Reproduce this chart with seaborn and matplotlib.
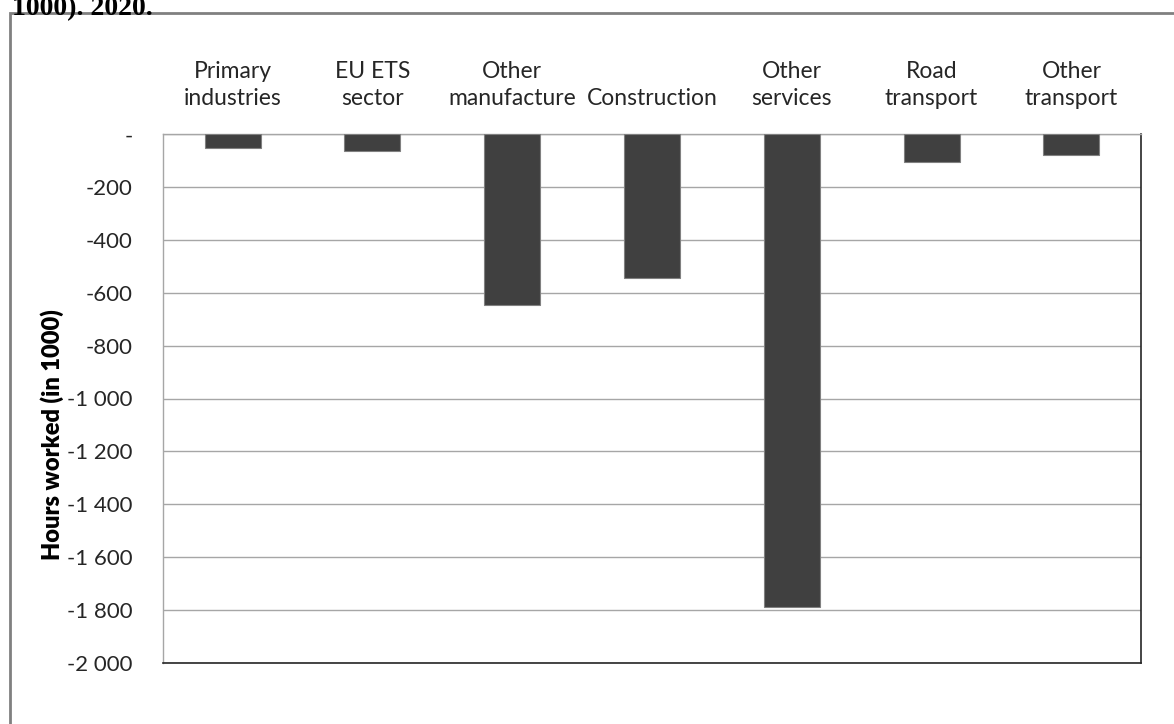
import matplotlib
matplotlib.use("Agg")
import matplotlib.pyplot as plt
from matplotlib.patches import Rectangle
from matplotlib.ticker import FuncFormatter, MultipleLocator
import seaborn as sns
import pandas as pd

# Change in hours worked by sector (in 1000)
categories = ["Primary\nindustries", "EU ETS\nsector", "Other\nmanufacture", "Construction",
              "Other\nservices", "Road\ntransport", "Other\ntransport"]
hours = [-50, -65, -646, -545, -1790, -106, -78]
y_label = "Hours worked (in 1000)"
caption = "1000). 2020."

sns.set_theme(style="white")
plt.rcParams["font.family"] = ["Lato", "DejaVu Sans"]

df = pd.DataFrame({"sector": categories, "hours": hours})

W, H = 1174, 724
fig = plt.figure(figsize=(W / 100, H / 100), dpi=100)
ax = fig.add_axes([162.7 / W, 1 - 662.7 / H, (1141.3 - 162.7) / W, (662.7 - 134.3) / H])

sns.barplot(data=df, x="sector", y="hours", color="#404040", width=0.4,
            edgecolor="#808080", linewidth=0.8, saturation=1, ax=ax, zorder=3)

ax.set_ylim(-2000, 0)
ax.yaxis.set_major_locator(MultipleLocator(200))
ax.yaxis.set_major_formatter(FuncFormatter(
    lambda v, p: "-" if abs(v) < 1e-9 else f"{int(round(v)):,}".replace(",", " ")))
ax.grid(axis="y", color="#a6a6a6", linewidth=1.0, zorder=0)
ax.set_axisbelow(True)

ax.xaxis.tick_top()
ax.tick_params(axis="x", length=0, pad=18.5, labelsize=16.5, colors="#262626")
ax.tick_params(axis="y", length=0, pad=21.5, labelsize=16, colors="#262626")
for lab in ax.get_xticklabels():
    lab.set_linespacing(1.35)

ax.set_xlabel("")
ax.set_ylabel(y_label, fontsize=17, fontweight="heavy", color="black")
ax.yaxis.set_label_coords(-0.101, 0.431)

for side in ("left", "top"):
    ax.spines[side].set_color("#a6a6a6")
    ax.spines[side].set_linewidth(1.0)
for side in ("bottom", "right"):
    ax.spines[side].set_color("#262626")
    ax.spines[side].set_linewidth(1.2)

# Chart frame
fig.patches.append(Rectangle((10 / W, -0.1), 1.2, 1 - 13 / H + 0.1, transform=fig.transFigure,
                             fill=False, edgecolor="#808080", linewidth=2.0))

fig.text(12 / W, 1 - 15 / H, caption, family=["Liberation Serif", "DejaVu Serif"],
         fontweight="bold", fontsize=20, va="baseline", ha="left", color="black")

fig.savefig("out.png", dpi=100)
